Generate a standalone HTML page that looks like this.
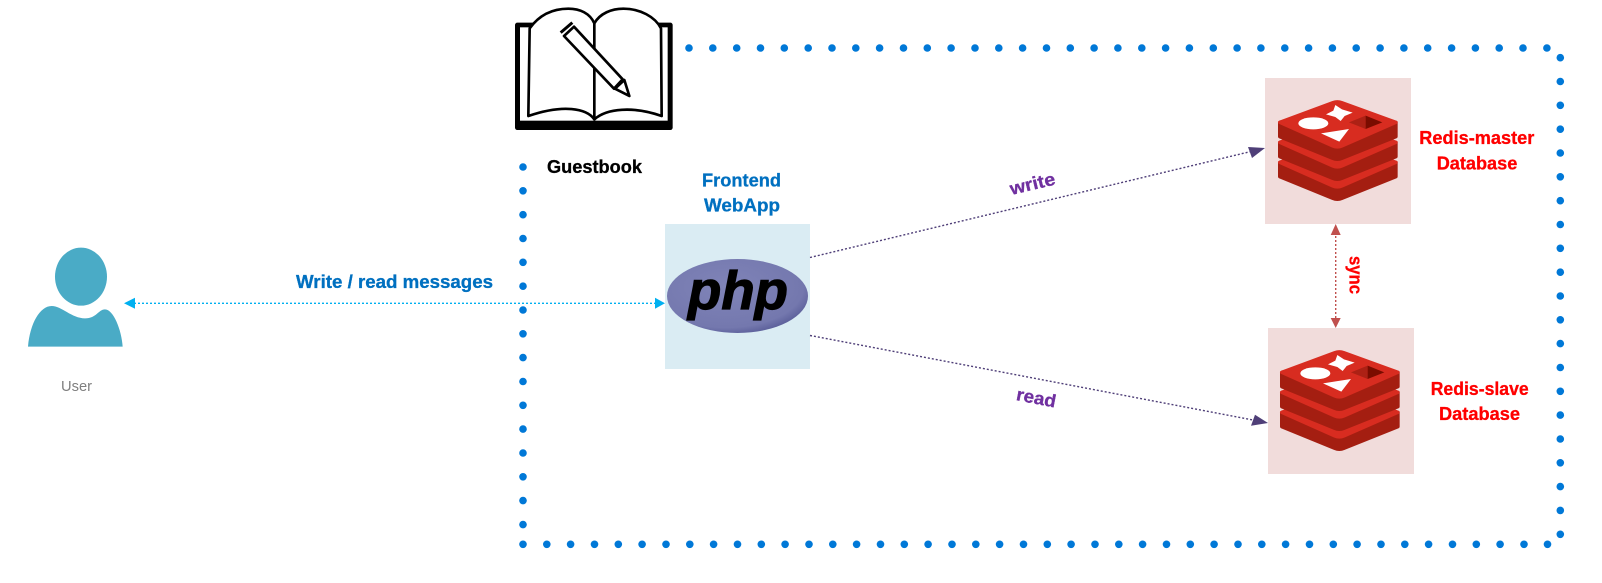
<!DOCTYPE html>
<html lang="en">
<head>
<meta charset="utf-8">
<title>Guestbook diagram</title>
<style>
html,body{margin:0;padding:0;background:#fff;width:1602px;height:583px;overflow:hidden}
svg{display:block}
text{font-family:"Liberation Sans",sans-serif}
.b{font-weight:bold;font-size:18px;stroke-width:.3px}
</style>
</head>
<body>
<svg xmlns="http://www.w3.org/2000/svg" width="1602" height="583" viewBox="0 0 1602 583">
<defs>
<radialGradient id="phpg" cx="42%" cy="38%" r="70%">
<stop offset="0" stop-color="#8084b8"/>
<stop offset=".78" stop-color="#7478ae"/>
<stop offset="1" stop-color="#4f5390"/>
</radialGradient>
<g id="layer" stroke-linejoin="round" stroke-width="10">
<path d="M179 187V230L338 295Q352 301 366 295L528 230V187L352 140Z" fill="#a41e11" stroke="#a41e11"/>
<path d="M179 187L338 128Q352 123 366 128L528 187L366 258Q352 264 338 258Z" fill="#d82c20" stroke="#d82c20"/>
</g>
<g id="redis" transform="translate(1220,60) scale(.33333)">
<use href="#layer" transform="translate(0,120)"/>
<use href="#layer" transform="translate(0,60)"/>
<use href="#layer"/>
<ellipse cx="280" cy="190" rx="45" ry="18" fill="#fff"/>
<polygon points="346,135 366,148 398,158 374,168 362,183 346,171 318,163 340,152" fill="#fff"/>
<polygon points="303,220 387,207 358,245" fill="#fff"/>
<polygon points="387,187 437,167 437,207" fill="#ad2115"/>
<polygon points="437,167 487,187 437,207" fill="#7a0c00"/>
</g>
</defs>

<rect width="1602" height="583" fill="#fff"/>

<!-- dotted boundary -->
<g fill="#0078d7">
<g id="dots-top">
<circle cx="689" cy="48" r="3.8"/><circle cx="712.8" cy="48" r="3.8"/><circle cx="736.7" cy="48" r="3.8"/><circle cx="760.5" cy="48" r="3.8"/><circle cx="784.3" cy="48" r="3.8"/><circle cx="808.2" cy="48" r="3.8"/><circle cx="832" cy="48" r="3.8"/><circle cx="855.8" cy="48" r="3.8"/><circle cx="879.6" cy="48" r="3.8"/><circle cx="903.5" cy="48" r="3.8"/><circle cx="927.3" cy="48" r="3.8"/><circle cx="951.1" cy="48" r="3.8"/><circle cx="975" cy="48" r="3.8"/><circle cx="998.8" cy="48" r="3.8"/><circle cx="1022.6" cy="48" r="3.8"/><circle cx="1046.5" cy="48" r="3.8"/><circle cx="1070.3" cy="48" r="3.8"/><circle cx="1094.1" cy="48" r="3.8"/><circle cx="1117.9" cy="48" r="3.8"/><circle cx="1141.8" cy="48" r="3.8"/><circle cx="1165.6" cy="48" r="3.8"/><circle cx="1189.4" cy="48" r="3.8"/><circle cx="1213.3" cy="48" r="3.8"/><circle cx="1237.1" cy="48" r="3.8"/><circle cx="1260.9" cy="48" r="3.8"/><circle cx="1284.8" cy="48" r="3.8"/><circle cx="1308.6" cy="48" r="3.8"/><circle cx="1332.4" cy="48" r="3.8"/><circle cx="1356.2" cy="48" r="3.8"/><circle cx="1380.1" cy="48" r="3.8"/><circle cx="1403.9" cy="48" r="3.8"/><circle cx="1427.7" cy="48" r="3.8"/><circle cx="1451.6" cy="48" r="3.8"/><circle cx="1475.4" cy="48" r="3.8"/><circle cx="1499.2" cy="48" r="3.8"/><circle cx="1523" cy="48" r="3.8"/><circle cx="1546.9" cy="48" r="3.8"/>
</g>
<g id="dots-right">
<circle cx="1560.3" cy="57.7" r="3.8"/><circle cx="1560.3" cy="81.5" r="3.8"/><circle cx="1560.3" cy="105.3" r="3.8"/><circle cx="1560.3" cy="129.2" r="3.8"/><circle cx="1560.3" cy="153" r="3.8"/><circle cx="1560.3" cy="176.8" r="3.8"/><circle cx="1560.3" cy="200.7" r="3.8"/><circle cx="1560.3" cy="224.5" r="3.8"/><circle cx="1560.3" cy="248.3" r="3.8"/><circle cx="1560.3" cy="272.2" r="3.8"/><circle cx="1560.3" cy="296" r="3.8"/><circle cx="1560.3" cy="319.8" r="3.8"/><circle cx="1560.3" cy="343.6" r="3.8"/><circle cx="1560.3" cy="367.5" r="3.8"/><circle cx="1560.3" cy="391.3" r="3.8"/><circle cx="1560.3" cy="415.1" r="3.8"/><circle cx="1560.3" cy="439" r="3.8"/><circle cx="1560.3" cy="462.8" r="3.8"/><circle cx="1560.3" cy="486.6" r="3.8"/><circle cx="1560.3" cy="510.4" r="3.8"/><circle cx="1560.3" cy="534.3" r="3.8"/>
</g>
<g id="dots-bottom">
<circle cx="523" cy="544.3" r="3.8"/><circle cx="546.8" cy="544.3" r="3.8"/><circle cx="570.6" cy="544.3" r="3.8"/><circle cx="594.5" cy="544.3" r="3.8"/><circle cx="618.3" cy="544.3" r="3.8"/><circle cx="642.1" cy="544.3" r="3.8"/><circle cx="666" cy="544.3" r="3.8"/><circle cx="689.8" cy="544.3" r="3.8"/><circle cx="713.6" cy="544.3" r="3.8"/><circle cx="737.5" cy="544.3" r="3.8"/><circle cx="761.3" cy="544.3" r="3.8"/><circle cx="785.1" cy="544.3" r="3.8"/><circle cx="809" cy="544.3" r="3.8"/><circle cx="832.8" cy="544.3" r="3.8"/><circle cx="856.6" cy="544.3" r="3.8"/><circle cx="880.5" cy="544.3" r="3.8"/><circle cx="904.3" cy="544.3" r="3.8"/><circle cx="928.1" cy="544.3" r="3.8"/><circle cx="952" cy="544.3" r="3.8"/><circle cx="975.8" cy="544.3" r="3.8"/><circle cx="999.6" cy="544.3" r="3.8"/><circle cx="1023.5" cy="544.3" r="3.8"/><circle cx="1047.3" cy="544.3" r="3.8"/><circle cx="1071.1" cy="544.3" r="3.8"/><circle cx="1095" cy="544.3" r="3.8"/><circle cx="1118.8" cy="544.3" r="3.8"/><circle cx="1142.6" cy="544.3" r="3.8"/><circle cx="1166.5" cy="544.3" r="3.8"/><circle cx="1190.3" cy="544.3" r="3.8"/><circle cx="1214.1" cy="544.3" r="3.8"/><circle cx="1238" cy="544.3" r="3.8"/><circle cx="1261.8" cy="544.3" r="3.8"/><circle cx="1285.6" cy="544.3" r="3.8"/><circle cx="1309.5" cy="544.3" r="3.8"/><circle cx="1333.3" cy="544.3" r="3.8"/><circle cx="1357.1" cy="544.3" r="3.8"/><circle cx="1381" cy="544.3" r="3.8"/><circle cx="1404.8" cy="544.3" r="3.8"/><circle cx="1428.6" cy="544.3" r="3.8"/><circle cx="1452.5" cy="544.3" r="3.8"/><circle cx="1476.3" cy="544.3" r="3.8"/><circle cx="1500.1" cy="544.3" r="3.8"/><circle cx="1524" cy="544.3" r="3.8"/><circle cx="1547.5" cy="544.3" r="3.8"/>
</g>
<g id="dots-left">
<circle cx="523" cy="167" r="3.8"/><circle cx="523" cy="190.8" r="3.8"/><circle cx="523" cy="214.7" r="3.8"/><circle cx="523" cy="238.5" r="3.8"/><circle cx="523" cy="262.3" r="3.8"/><circle cx="523" cy="286.2" r="3.8"/><circle cx="523" cy="310" r="3.8"/><circle cx="523" cy="333.8" r="3.8"/><circle cx="523" cy="357.6" r="3.8"/><circle cx="523" cy="381.5" r="3.8"/><circle cx="523" cy="405.3" r="3.8"/><circle cx="523" cy="429.1" r="3.8"/><circle cx="523" cy="453" r="3.8"/><circle cx="523" cy="476.8" r="3.8"/><circle cx="523" cy="500.6" r="3.8"/><circle cx="523" cy="524.6" r="3.8"/>
</g>
</g>

<!-- book -->
<g transform="translate(490,0) scale(.33333)">
<rect x="75" y="68" width="473" height="322" rx="7" fill="#000"/>
<rect x="90" y="82" width="443" height="280" fill="#fff"/>
<g fill="#fff" stroke="#000" stroke-width="8" stroke-linejoin="round">
<path d="M115 348L119 85C150 42 190 26 235 26C270 26 300 40 313 70V358C290 325 220 312 115 348Z"/>
<path d="M313 70C330 40 365 26 400 26C450 26 495 50 513 85L515 348C430 318 350 325 313 358Z"/>
<polygon points="222,108 252,80 398,238 372,266"/>
<polygon points="375,266 403,240 418,288"/>
</g>
<line x1="212" y1="98" x2="247" y2="68" stroke="#000" stroke-width="9"/>
</g>

<!-- boxes -->
<rect x="665" y="224" width="145" height="145" fill="#daecf3"/>
<rect x="1265" y="78" width="146" height="146" fill="#f1dcdb"/>
<rect x="1268" y="328" width="146" height="146" fill="#f1dcdb"/>

<!-- php logo -->
<ellipse cx="737.5" cy="296" rx="70.5" ry="37" fill="url(#phpg)"/>
<text x="688" y="309" font-size="54" font-weight="bold" font-style="italic" textLength="100" lengthAdjust="spacingAndGlyphs" fill="#000" stroke="#000" stroke-width="1.2">php</text>

<!-- redis logos -->
<use href="#redis"/>
<use href="#redis" transform="translate(2,250)"/>

<!-- user -->
<g transform="translate(10,230) scale(.33333)" fill="#4aabc6">
<ellipse cx="213" cy="140" rx="78" ry="87"/>
<path d="M54 350C60 280 90 228 125 228C155 228 185 265 225 265C260 265 265 238 285 238C310 238 335 300 338 350Z"/>
</g>

<!-- connectors -->
<line x1="130" y1="303.3" x2="660" y2="303.3" stroke="#00b0f0" stroke-width="1.3" stroke-dasharray="2 2"/>
<polygon points="124,303.3 135,297.8 135,308.8" fill="#00b0f0"/>
<polygon points="665,303.3 655,297.8 655,308.8" fill="#00b0f0"/>

<line x1="810" y1="257.5" x2="1255" y2="150.5" stroke="#4f3f78" stroke-width="1.4" stroke-dasharray="2 2"/>
<polygon points="1265,148 1248,147 1252,158" fill="#4f3f78"/>

<line x1="810" y1="335.5" x2="1258" y2="421" stroke="#4f3f78" stroke-width="1.4" stroke-dasharray="2 2"/>
<polygon points="1268,423 1255,414.7 1251,425.7" fill="#4f3f78"/>

<line x1="1335.7" y1="232" x2="1335.7" y2="320" stroke="#c0504d" stroke-width="1.4" stroke-dasharray="2 2"/>
<polygon points="1335.7,224 1330.7,235 1340.7,235" fill="#c0504d"/>
<polygon points="1335.7,328 1330.7,318 1340.7,318" fill="#c0504d"/>

<!-- labels -->
<text class="b" x="547" y="173" textLength="95" lengthAdjust="spacingAndGlyphs" fill="#000" stroke="#000">Guestbook</text>
<text class="b" x="702" y="186.5" textLength="79" lengthAdjust="spacingAndGlyphs" fill="#0070c0" stroke="#0070c0">Frontend</text>
<text class="b" x="704" y="211.5" textLength="76" lengthAdjust="spacingAndGlyphs" fill="#0070c0" stroke="#0070c0">WebApp</text>
<text class="b" x="296" y="288" textLength="197" lengthAdjust="spacingAndGlyphs" fill="#0070c0" stroke="#0070c0">Write / read messages</text>
<text x="61" y="391" font-size="15" textLength="31" lengthAdjust="spacingAndGlyphs" fill="#7f7f7f">User</text>
<text class="b" x="1419.3" y="144" textLength="115" lengthAdjust="spacingAndGlyphs" fill="#ff0000" stroke="#ff0000">Redis-master</text>
<text class="b" x="1436.7" y="169.3" textLength="80.6" lengthAdjust="spacingAndGlyphs" fill="#ff0000" stroke="#ff0000">Database</text>
<text class="b" x="1430.7" y="395" textLength="98" lengthAdjust="spacingAndGlyphs" fill="#ff0000" stroke="#ff0000">Redis-slave</text>
<text class="b" x="1439" y="420" textLength="81" lengthAdjust="spacingAndGlyphs" fill="#ff0000" stroke="#ff0000">Database</text>
<text class="b" transform="translate(1011.5,195) rotate(-13.5)" textLength="46" lengthAdjust="spacingAndGlyphs" fill="#7030a0" stroke="#7030a0">write</text>
<text class="b" transform="translate(1015.5,400) rotate(11)" textLength="40" lengthAdjust="spacingAndGlyphs" fill="#7030a0" stroke="#7030a0">read</text>
<text class="b" transform="translate(1349.5,256) rotate(90)" textLength="38" lengthAdjust="spacingAndGlyphs" fill="#ff0000" stroke="#ff0000">sync</text>
</svg>
</body>
</html>
